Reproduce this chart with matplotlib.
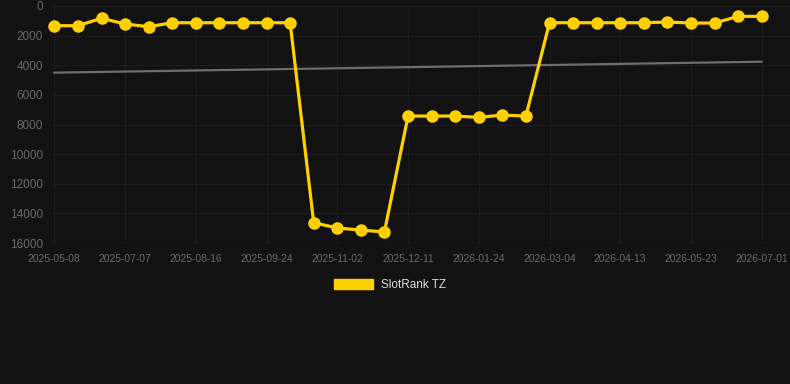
import matplotlib
matplotlib.use("Agg")
import matplotlib.pyplot as plt
from matplotlib.patches import Patch

plt.rcParams["font.family"] = ["Liberation Sans", "DejaVu Sans"]

dates = ["2025-05-08", "2025-05-28", "2025-06-17", "2025-07-07", "2025-07-20", "2025-08-03",
         "2025-08-16", "2025-08-29", "2025-09-11", "2025-09-24", "2025-10-07", "2025-10-20",
         "2025-11-02", "2025-11-15", "2025-11-28", "2025-12-11", "2025-12-26", "2026-01-09",
         "2026-01-24", "2026-02-06", "2026-02-19", "2026-03-04", "2026-03-17", "2026-03-30",
         "2026-04-13", "2026-04-26", "2026-05-09", "2026-05-23", "2026-06-05", "2026-06-18",
         "2026-07-01"]
rank = [1330, 1330, 830, 1215, 1400, 1130, 1130, 1130, 1130, 1130, 1130,
        14640, 14980, 15135, 15250,
        7430, 7430, 7430, 7520, 7365, 7430,
        1130, 1130, 1130, 1130, 1130, 1080, 1150, 1150, 700, 700]
trend_ends = [4500, 3760]
yticks = [0, 2000, 4000, 6000, 8000, 10000, 12000, 14000, 16000]
series_name = "SlotRank TZ"

bg = "#121212"
fig = plt.figure(figsize=(7.9, 3.84), dpi=100, facecolor=bg)
ax = fig.add_axes([52/790, 1-243/384, 738/790, 237/384])
ax.set_facecolor(bg)

x = list(range(len(rank)))
ax.plot([x[0], x[-1]], trend_ends, color="#6e6e6e", lw=1.6, zorder=2, clip_on=False)
ax.plot(x, rank, color="#FFD000", lw=2.3, marker="o", ms=8, zorder=3, clip_on=False)

ax.set_ylim(16000, 0)
ax.set_xlim(-0.1, 31.2)
ax.set_yticks(yticks)
ax.set_yticklabels([str(v) for v in yticks])
ax.set_xticks(x[::3])
ax.set_xticklabels(dates[::3])
ax.grid(True, color="#1d1d1d", lw=0.8)
ax.set_axisbelow(True)
for s in ax.spines.values():
    s.set_visible(False)
ax.tick_params(axis="y", length=0, pad=6.5, labelsize=8.5, labelcolor="#6a6a6a")
ax.tick_params(axis="x", length=0, pad=8, labelsize=7.4, labelcolor="#6a6a6a")
ax.axhline(16000, color="#2a2a2a", lw=1)

handle = Patch(facecolor="#FFD000", edgecolor="#FFD000")
fig.legend([handle], [series_name], loc="center", bbox_to_anchor=(0.494, 1-285/384),
           frameon=False, fontsize=8.5, labelcolor="#dddddd",
           handlelength=3.25, handleheight=0.95, handletextpad=0.7)

fig.savefig("out.png", dpi=100, facecolor=bg)
